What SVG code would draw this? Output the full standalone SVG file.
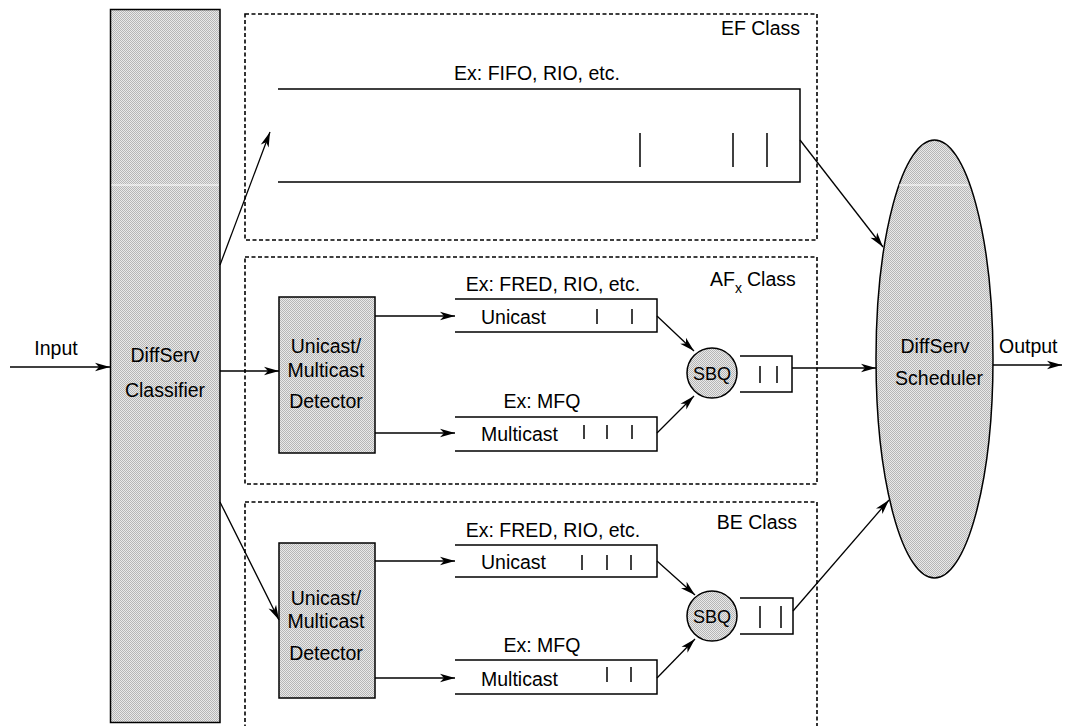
<svg xmlns="http://www.w3.org/2000/svg" width="1065" height="726" viewBox="0 0 1065 726">
<style>
  text { font-family: "Liberation Sans", Arial, Helvetica, sans-serif; font-size: 19.5px; fill: #000; }
  .mid { text-anchor: middle; }
  .end { text-anchor: end; }
  .shade { fill: url(#stipple); stroke: #000; stroke-width: 1.5; }
  .dash { fill: none; stroke: #000; stroke-width: 1.6; stroke-dasharray: 4 2.5; }
  .q { fill: none; stroke: #000; stroke-width: 1.5; }
  .bar { stroke: #000; stroke-width: 1.5; }
  .conn line { stroke: #000; stroke-width: 1.3; marker-end: url(#arr); }
  .gap { stroke: #fff; stroke-width: 1; }
</style>
<defs>
  <pattern id="stipple" patternUnits="userSpaceOnUse" width="2" height="2">
    <rect width="2" height="2" fill="#e9e9e9"/>
    <rect width="1" height="1" fill="#b6b6b6"/>
    <rect x="1" y="1" width="1" height="1" fill="#b6b6b6"/>
  </pattern>
  <marker id="arr" markerUnits="userSpaceOnUse" markerWidth="15" markerHeight="10" refX="15" refY="5" orient="auto" overflow="visible">
    <path d="M0,0.8 L15,5 L0,9.2 L4,5 Z" fill="#000"/>
  </marker>
</defs>
<rect width="1065" height="726" fill="#fff"/>

<g id="input-label"><text class="mid" x="56" y="355">Input</text></g>

<g id="classifier">
  <rect class="shade" x="110.5" y="9.5" width="109.5" height="713"/>
  <line class="gap" x1="111.5" y1="185" x2="219" y2="185"/>
  <text class="mid" x="165" y="362">DiffServ</text>
  <text class="mid" x="165" y="397">Classifier</text>
</g>

<g id="ef-class">
  <rect class="dash" x="245" y="14" width="572" height="226"/>
  <text class="end" x="800" y="35">EF Class</text>
  <text class="mid" x="537" y="80">Ex: FIFO, RIO, etc.</text>
  <path class="q" d="M278,89 H800 V182 H278"/>
  <line class="bar" x1="640" y1="133" x2="640" y2="167"/>
  <line class="bar" x1="733" y1="133" x2="733" y2="167"/>
  <line class="bar" x1="767" y1="133" x2="767" y2="167"/>
</g>

<g id="af-class">
  <rect class="dash" x="245" y="257" width="572" height="227"/>
  <text x="710" y="286">AF<tspan font-size="14" dy="7">x</tspan><tspan x="747" dy="-7">Class</tspan></text>
</g>

<g id="af-detector">
  <rect class="shade" x="279" y="297" width="96" height="156"/>
  <text class="mid" x="326" y="353">Unicast/</text>
  <text class="mid" x="326" y="377">Multicast</text>
  <text class="mid" x="326" y="408">Detector</text>
</g>

<g id="af-unicast">
  <text class="mid" x="553" y="291">Ex: FRED, RIO, etc.</text>
  <path class="q" d="M455,299 H657 V332 H455"/>
  <text x="481" y="324">Unicast</text>
  <line class="bar" x1="597" y1="309" x2="597" y2="324"/>
  <line class="bar" x1="632" y1="309" x2="632" y2="324"/>
</g>

<g id="af-multicast">
  <text class="mid" x="542" y="408">Ex: MFQ</text>
  <path class="q" d="M455,417 H657 V451 H455"/>
  <text x="481" y="441">Multicast</text>
  <line class="bar" x1="584" y1="425" x2="584" y2="439"/>
  <line class="bar" x1="607" y1="425" x2="607" y2="439"/>
  <line class="bar" x1="632" y1="425" x2="632" y2="439"/>
</g>

<g id="af-sbq">
  <circle class="shade" cx="712" cy="373" r="25"/>
  <text class="mid" x="712" y="380" style="font-size:18px">SBQ</text>
  <path class="q" d="M740,356 H792 V392 H740"/>
  <line class="bar" x1="760" y1="366" x2="760" y2="383"/>
  <line class="bar" x1="777" y1="366" x2="777" y2="383"/>
</g>

<g id="be-class">
  <rect class="dash" x="245" y="502" width="572" height="240"/>
  <text class="end" x="797" y="529">BE Class</text>
</g>

<g id="be-detector">
  <rect class="shade" x="279" y="543" width="96" height="155"/>
  <text class="mid" x="326" y="605">Unicast/</text>
  <text class="mid" x="326" y="628">Multicast</text>
  <text class="mid" x="326" y="660">Detector</text>
</g>

<g id="be-unicast">
  <text class="mid" x="553" y="537">Ex: FRED, RIO, etc.</text>
  <path class="q" d="M455,545 H657 V577 H455"/>
  <text x="481" y="569">Unicast</text>
  <line class="bar" x1="582" y1="555" x2="582" y2="570"/>
  <line class="bar" x1="607" y1="555" x2="607" y2="570"/>
  <line class="bar" x1="631" y1="555" x2="631" y2="570"/>
</g>

<g id="be-multicast">
  <text class="mid" x="542" y="652">Ex: MFQ</text>
  <path class="q" d="M455,660 H657 V694 H455"/>
  <text x="481" y="686">Multicast</text>
  <line class="bar" x1="607" y1="667" x2="607" y2="682"/>
  <line class="bar" x1="631" y1="667" x2="631" y2="682"/>
</g>

<g id="be-sbq">
  <circle class="shade" cx="712" cy="616" r="25"/>
  <text class="mid" x="712" y="623" style="font-size:18px">SBQ</text>
  <path class="q" d="M740,598 H793 V634 H740"/>
  <line class="bar" x1="760" y1="606" x2="760" y2="628"/>
  <line class="bar" x1="781" y1="606" x2="781" y2="628"/>
</g>

<g id="scheduler">
  <ellipse class="shade" cx="934.5" cy="359" rx="58.5" ry="219"/>
  <line class="gap" x1="899" y1="185" x2="968" y2="185"/>
  <text class="mid" x="935" y="353">DiffServ</text>
  <text class="mid" x="939" y="385">Scheduler</text>
</g>

<g id="output-label"><text x="999" y="353">Output</text></g>

<g id="connectors" class="conn">
  <line x1="10" y1="367" x2="110" y2="367"/>
  <line x1="220" y1="265" x2="270" y2="132"/>
  <line x1="220" y1="371" x2="279" y2="371"/>
  <line x1="220" y1="502" x2="279" y2="620"/>
  <line x1="375" y1="316" x2="455" y2="316"/>
  <line x1="375" y1="433" x2="455" y2="433"/>
  <line x1="657" y1="316" x2="694" y2="351"/>
  <line x1="657" y1="433" x2="694" y2="396"/>
  <line x1="792" y1="368" x2="876" y2="368"/>
  <line x1="800" y1="140" x2="883" y2="247"/>
  <line x1="375" y1="561" x2="455" y2="561"/>
  <line x1="375" y1="678" x2="455" y2="678"/>
  <line x1="657" y1="561" x2="695" y2="595"/>
  <line x1="657" y1="678" x2="695" y2="639"/>
  <line x1="793" y1="611" x2="889" y2="500"/>
  <line x1="993" y1="365" x2="1062" y2="365"/>
</g>
</svg>
